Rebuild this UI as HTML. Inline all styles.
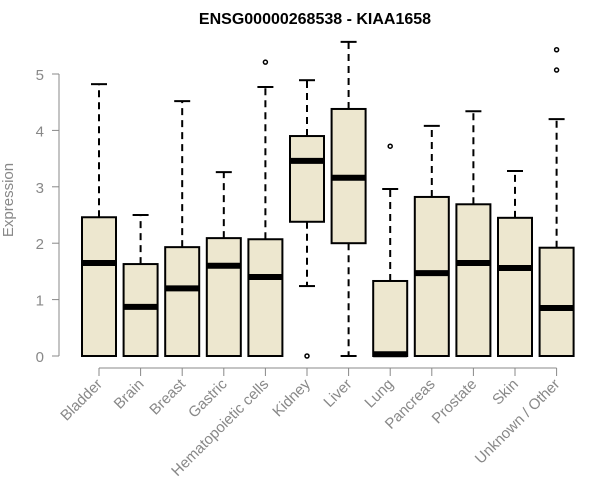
<!DOCTYPE html>
<html><head><style>body{margin:0;background:#fff}svg{display:block}</style></head><body>
<svg id="c" width="600" height="500" xmlns="http://www.w3.org/2000/svg">
<text x="315" y="24" text-anchor="middle" font-family="Liberation Sans, sans-serif" font-weight="bold" font-size="16">ENSG00000268538 - KIAA1658</text>
<text transform="translate(13,200) rotate(-90)" text-anchor="middle" font-family="Liberation Sans, sans-serif" font-size="15" fill="#888">Expression</text>
<g id="g"></g>
</svg>
<script>
const categories=["Bladder","Brain","Breast","Gastric","Hematopoietic cells","Kidney","Liver","Lung","Pancreas","Prostate","Skin","Unknown / Other"];
const whiskerLow=[0,0,0,0,0,1.24,0,0,0,0,0,0];
const q1=[0,0,0,0,0,2.38,2.0,0,0,0,0,0];
const medians=[1.65,0.87,1.2,1.6,1.4,3.46,3.16,0.03,1.47,1.65,1.56,0.85];
const q3=[2.46,1.63,1.93,2.09,2.07,3.9,4.38,1.33,2.82,2.69,2.45,1.92];
const whiskerHigh=[4.82,2.5,4.52,3.26,4.77,4.89,5.57,2.96,4.08,4.34,3.28,4.2];
const outliers=[[],[],[],[],[5.21],[0],[],[3.72],[],[],[],[5.43,5.07]];
const yTicks=[0,1,2,3,4,5];
const NS="http://www.w3.org/2000/svg",g=document.getElementById('g');
const y=v=>356-v*56.4, x=i=>99+i*41.6;
function mk(t,a){const e=document.createElementNS(NS,t);for(const k in a)e.setAttribute(k,a[k]);g.appendChild(e);return e;}
let e;
e=mk('line',{x1:59,x2:59,y1:y(0),y2:y(5),stroke:'#888'});


yTicks.forEach(t=>{
 e=mk('line',{x1:52,x2:59,y1:y(t),y2:y(t),stroke:'#888'});
 
 
 e=mk('text',{x:44,y:y(t)+6,'text-anchor':'end','font-family':'Liberation Sans, sans-serif','font-size':15,fill:'#888'});
 e.textContent=t;
 
 
});
e=mk('line',{x1:x(0),x2:x(11),y1:368,y2:368,stroke:'#888'});


categories.forEach((c,i)=>{
 const cx=x(i),w=17;
 e=mk('line',{x1:cx,x2:cx,y1:368,y2:376,stroke:'#888'});
 
 
 e=mk('text',{transform:`translate(${cx+4},${385}) rotate(-45)`,'text-anchor':'end','font-family':'Liberation Sans, sans-serif','font-size':15,fill:'#888'});
 e.textContent=c;
 
 
 e=mk('line',{x1:cx,x2:cx,y1:y(q3[i]),y2:y(whiskerHigh[i]),stroke:'#000','stroke-width':2,'stroke-dasharray':'7,5'});
 
 
 e=mk('line',{x1:cx-8,x2:cx+8,y1:y(whiskerHigh[i]),y2:y(whiskerHigh[i]),stroke:'#000','stroke-width':2});
 
 
 if(whiskerLow[i]<q1[i]){
  e=mk('line',{x1:cx,x2:cx,y1:y(q1[i]),y2:y(whiskerLow[i]),stroke:'#000','stroke-width':2,'stroke-dasharray':'7,5'});
  
  
  e=mk('line',{x1:cx-8,x2:cx+8,y1:y(whiskerLow[i]),y2:y(whiskerLow[i]),stroke:'#000','stroke-width':2});
  
  
 }
 e=mk('rect',{x:cx-w,y:y(q3[i]),width:2*w,height:y(q1[i])-y(q3[i]),fill:'#ede7cf',stroke:'#000','stroke-width':2});
 
 
 e=mk('line',{x1:cx-w,x2:cx+w,y1:y(medians[i]),y2:y(medians[i]),stroke:'#000','stroke-width':6});
 
 
 outliers[i].forEach(o=>{
  e=mk('circle',{cx:cx,cy:y(o),r:2,fill:'none',stroke:'#000','stroke-width':1.5});
  
  
 });
});
</script>
</body></html>
